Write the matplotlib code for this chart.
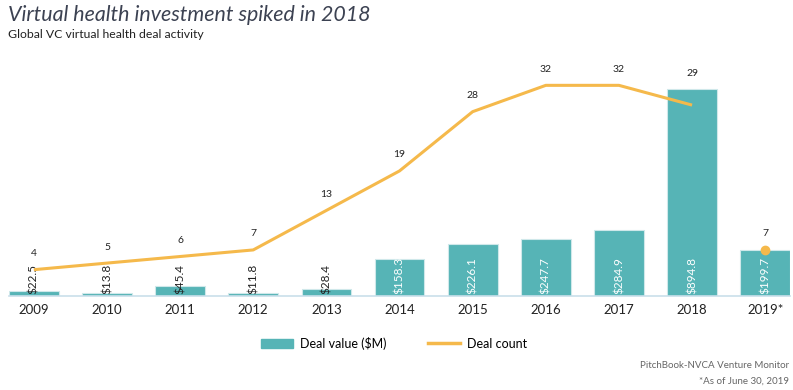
import numpy as np
import matplotlib as mpl
import matplotlib.pyplot as plt
from matplotlib.patches import Patch
from matplotlib.lines import Line2D

mpl.rc('font', family=['Lato', 'DejaVu Sans'])

years = ['2009', '2010', '2011', '2012', '2013', '2014', '2015', '2016', '2017', '2018', '2019*']
deal_value = [22.5, 13.8, 45.4, 11.8, 28.4, 158.3, 226.1, 247.7, 284.9, 894.8, 199.7]
deal_count = [4, 5, 6, 7, 13, 19, 28, 32, 32, 29, 7]

teal = '#56B4B6'
orange = '#F5B94B'
dark = '#222222'

fig = plt.figure(figsize=(7.93, 3.9), dpi=100)
ax = fig.add_axes([0.0113, 0.241, 0.985, 0.579])
ax2 = ax.twinx()

x = np.arange(len(years))
bars = ax.bar(x, deal_value, 0.68, color=teal, edgecolor='#CFE8EA', linewidth=0.8, zorder=2)
ax.set_ylim(0, 977)
ax.set_xlim(-0.34, 10.34)

# value labels inside / on the bars
for i, v in enumerate(deal_value):
    col = 'white' if v > 100 else dark
    ax.text(i, 8, '$%.1f' % v, rotation=90, ha='center', va='bottom',
            fontsize=8.5, color=col, zorder=5)

# deal count line (2019 is partial year -> only a dot)
ax2.plot(x[:-1], deal_count[:-1], color=orange, linewidth=2.2, solid_capstyle='butt', zorder=3)
ax2.plot(x[-1], deal_count[-1], 'o', color=orange, markersize=6, zorder=4)
ax2.set_ylim(0, 34.3)

# count labels above the higher of bar top and line point
for i, (v, c) in enumerate(zip(deal_value, deal_count)):
    y_bar = ax.transData.transform((i, v))[1]
    y_line = ax2.transData.transform((i, c))[1]
    y_top = max(y_bar, y_line)
    yd = ax2.transData.inverted().transform((0, y_top + 16))[1]
    ax2.text(i, yd, str(c), ha='center', va='center', fontsize=7.5, color=dark)

for a in (ax, ax2):
    for s in a.spines.values():
        s.set_visible(False)
    a.set_yticks([])
ax.spines['bottom'].set_visible(True)
ax.spines['bottom'].set_color('#C9DFEA')
ax.spines['bottom'].set_linewidth(1.2)
ax.set_xticks(x, years)
ax.tick_params(axis='x', length=0, pad=6, labelsize=9.5, labelcolor=dark)

fig.text(0.01, 0.988, 'Virtual health investment spiked in 2018', fontsize=15.4,
         style='italic', color='#3C4252', va='top', ha='left')
fig.text(0.01, 0.925, 'Global VC virtual health deal activity', fontsize=8.8,
         color=dark, va='top', ha='left')

handles = [Patch(color=teal), Line2D([0], [0], color=orange, linewidth=2.5)]
fig.legend(handles, ['Deal value ($M)', 'Deal count'], loc='center',
           bbox_to_anchor=(0.497, 0.12), ncol=2, frameon=False, fontsize=9,
           handlelength=2.6, handleheight=0.7, columnspacing=3.3, handletextpad=0.55)

fig.text(0.995, 0.062, 'PitchBook-NVCA Venture Monitor', fontsize=7,
         color='#666666', ha='right', va='center')
fig.text(0.995, 0.023, '*As of June 30, 2019', fontsize=7,
         color='#666666', ha='right', va='center')

plt.savefig('out.png', dpi=100)
